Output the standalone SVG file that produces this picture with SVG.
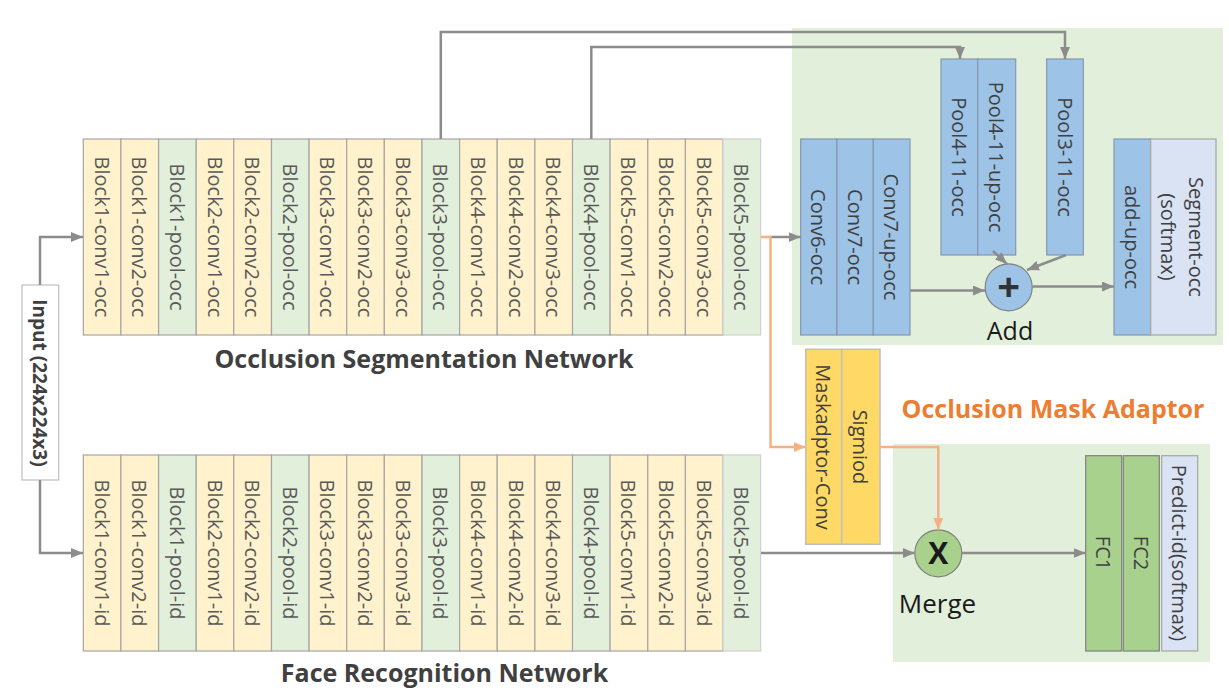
<svg xmlns="http://www.w3.org/2000/svg" width="1229" height="695" viewBox="0 0 1229 695">
<defs>
<marker id="ag" viewBox="0 0 12 10" refX="12" refY="5" markerWidth="12" markerHeight="10" markerUnits="userSpaceOnUse" orient="auto"><path d="M0,0 L12,5 L0,10 z" fill="#8c8c8c"/></marker>
<marker id="ao" viewBox="0 0 12 10" refX="12" refY="5" markerWidth="12" markerHeight="10" markerUnits="userSpaceOnUse" orient="auto"><path d="M0,0 L12,5 L0,10 z" fill="#f4b183"/></marker>
<style>
.conv{fill:#fff2cc;stroke:#a6a6a6;stroke-width:1.2}
.pool{fill:#e2efda;stroke:#a6a6a6;stroke-width:1.2}
.last{fill:#e2efda;stroke:#d0d0d0;stroke-width:1.2}
.blue{fill:#9dc3e6;stroke:#8497b0;stroke-width:1.2}
.pale{fill:#dae3f3;stroke:#a6a6a6;stroke-width:1.2}
.yel{fill:#ffd966;stroke:#bfbfbf;stroke-width:1.5}
.fc{fill:#a9d18e;stroke:#7f7f7f;stroke-width:1.2}
.region{fill:#e2efda}
.bt{font-family:"Open Sans","Liberation Sans",sans-serif;font-size:20px;fill:#595959;text-anchor:middle;dominant-baseline:central}
.dt{font-family:"Open Sans","Liberation Sans",sans-serif;font-size:20px;fill:#404040;text-anchor:middle;dominant-baseline:central}
.title{font-family:"Open Sans","Liberation Sans",sans-serif;font-size:25px;font-weight:bold;fill:#404040;text-anchor:middle}
.lab{font-family:"Open Sans","Liberation Sans",sans-serif;font-size:25px;fill:#1a1a1a;text-anchor:middle}
.cg{fill:none;stroke:#8c8c8c;stroke-width:2.5}
.co{fill:none;stroke:#f4b183;stroke-width:2.5}
</style>
</defs>
<rect class="region" x="792" y="28" width="431" height="317"/>
<rect class="region" x="893" y="444" width="317" height="218"/>
<g id="occ-blocks">
<g id="b1c1o"><rect class="conv" x="83.3" y="139" width="37.63" height="196"/><text class="bt" transform="translate(102.1,237) rotate(90)">Block1-conv1-occ</text></g>
<g id="b1c2o"><rect class="conv" x="120.9" y="139" width="37.63" height="196"/><text class="bt" transform="translate(139.7,237) rotate(90)">Block1-conv2-occ</text></g>
<g id="b1po"><rect class="pool" x="158.6" y="139" width="37.63" height="196"/><text class="bt" transform="translate(177.4,237) rotate(90)">Block1-pool-occ</text></g>
<g id="b2c1o"><rect class="conv" x="196.2" y="139" width="37.63" height="196"/><text class="bt" transform="translate(215.0,237) rotate(90)">Block2-conv1-occ</text></g>
<g id="b2c2o"><rect class="conv" x="233.8" y="139" width="37.63" height="196"/><text class="bt" transform="translate(252.6,237) rotate(90)">Block2-conv2-occ</text></g>
<g id="b2po"><rect class="pool" x="271.5" y="139" width="37.63" height="196"/><text class="bt" transform="translate(290.3,237) rotate(90)">Block2-pool-occ</text></g>
<g id="b3c1o"><rect class="conv" x="309.1" y="139" width="37.63" height="196"/><text class="bt" transform="translate(327.9,237) rotate(90)">Block3-conv1-occ</text></g>
<g id="b3c2o"><rect class="conv" x="346.7" y="139" width="37.63" height="196"/><text class="bt" transform="translate(365.5,237) rotate(90)">Block3-conv2-occ</text></g>
<g id="b3c3o"><rect class="conv" x="384.3" y="139" width="37.63" height="196"/><text class="bt" transform="translate(403.1,237) rotate(90)">Block3-conv3-occ</text></g>
<g id="b3po"><rect class="pool" x="422.0" y="139" width="37.63" height="196"/><text class="bt" transform="translate(440.8,237) rotate(90)">Block3-pool-occ</text></g>
<g id="b4c1o"><rect class="conv" x="459.6" y="139" width="37.63" height="196"/><text class="bt" transform="translate(478.4,237) rotate(90)">Block4-conv1-occ</text></g>
<g id="b4c2o"><rect class="conv" x="497.2" y="139" width="37.63" height="196"/><text class="bt" transform="translate(516.0,237) rotate(90)">Block4-conv2-occ</text></g>
<g id="b4c3o"><rect class="conv" x="534.9" y="139" width="37.63" height="196"/><text class="bt" transform="translate(553.7,237) rotate(90)">Block4-conv3-occ</text></g>
<g id="b4po"><rect class="pool" x="572.5" y="139" width="37.63" height="196"/><text class="bt" transform="translate(591.3,237) rotate(90)">Block4-pool-occ</text></g>
<g id="b5c1o"><rect class="conv" x="610.1" y="139" width="37.63" height="196"/><text class="bt" transform="translate(628.9,237) rotate(90)">Block5-conv1-occ</text></g>
<g id="b5c2o"><rect class="conv" x="647.8" y="139" width="37.63" height="196"/><text class="bt" transform="translate(666.6,237) rotate(90)">Block5-conv2-occ</text></g>
<g id="b5c3o"><rect class="conv" x="685.4" y="139" width="37.63" height="196"/><text class="bt" transform="translate(704.2,237) rotate(90)">Block5-conv3-occ</text></g>
<g id="b5po"><rect class="last" x="723.0" y="139" width="37.63" height="196"/><text class="bt" transform="translate(741.8,237) rotate(90)">Block5-pool-occ</text></g>
</g>
<g id="id-blocks">
<g id="b1c1i"><rect class="conv" x="83.3" y="455" width="37.63" height="196"/><text class="bt" transform="translate(102.1,553) rotate(90)">Block1-conv1-id</text></g>
<g id="b1c2i"><rect class="conv" x="120.9" y="455" width="37.63" height="196"/><text class="bt" transform="translate(139.7,553) rotate(90)">Block1-conv2-id</text></g>
<g id="b1pi"><rect class="pool" x="158.6" y="455" width="37.63" height="196"/><text class="bt" transform="translate(177.4,553) rotate(90)">Block1-pool-id</text></g>
<g id="b2c1i"><rect class="conv" x="196.2" y="455" width="37.63" height="196"/><text class="bt" transform="translate(215.0,553) rotate(90)">Block2-conv1-id</text></g>
<g id="b2c2i"><rect class="conv" x="233.8" y="455" width="37.63" height="196"/><text class="bt" transform="translate(252.6,553) rotate(90)">Block2-conv2-id</text></g>
<g id="b2pi"><rect class="pool" x="271.5" y="455" width="37.63" height="196"/><text class="bt" transform="translate(290.3,553) rotate(90)">Block2-pool-id</text></g>
<g id="b3c1i"><rect class="conv" x="309.1" y="455" width="37.63" height="196"/><text class="bt" transform="translate(327.9,553) rotate(90)">Block3-conv1-id</text></g>
<g id="b3c2i"><rect class="conv" x="346.7" y="455" width="37.63" height="196"/><text class="bt" transform="translate(365.5,553) rotate(90)">Block3-conv2-id</text></g>
<g id="b3c3i"><rect class="conv" x="384.3" y="455" width="37.63" height="196"/><text class="bt" transform="translate(403.1,553) rotate(90)">Block3-conv3-id</text></g>
<g id="b3pi"><rect class="pool" x="422.0" y="455" width="37.63" height="196"/><text class="bt" transform="translate(440.8,553) rotate(90)">Block3-pool-id</text></g>
<g id="b4c1i"><rect class="conv" x="459.6" y="455" width="37.63" height="196"/><text class="bt" transform="translate(478.4,553) rotate(90)">Block4-conv1-id</text></g>
<g id="b4c2i"><rect class="conv" x="497.2" y="455" width="37.63" height="196"/><text class="bt" transform="translate(516.0,553) rotate(90)">Block4-conv2-id</text></g>
<g id="b4c3i"><rect class="conv" x="534.9" y="455" width="37.63" height="196"/><text class="bt" transform="translate(553.7,553) rotate(90)">Block4-conv3-id</text></g>
<g id="b4pi"><rect class="pool" x="572.5" y="455" width="37.63" height="196"/><text class="bt" transform="translate(591.3,553) rotate(90)">Block4-pool-id</text></g>
<g id="b5c1i"><rect class="conv" x="610.1" y="455" width="37.63" height="196"/><text class="bt" transform="translate(628.9,553) rotate(90)">Block5-conv1-id</text></g>
<g id="b5c2i"><rect class="conv" x="647.8" y="455" width="37.63" height="196"/><text class="bt" transform="translate(666.6,553) rotate(90)">Block5-conv2-id</text></g>
<g id="b5c3i"><rect class="conv" x="685.4" y="455" width="37.63" height="196"/><text class="bt" transform="translate(704.2,553) rotate(90)">Block5-conv3-id</text></g>
<g id="b5pi"><rect class="last" x="723.0" y="455" width="37.63" height="196"/><text class="bt" transform="translate(741.8,553) rotate(90)">Block5-pool-id</text></g>
</g>
<g id="input"><rect x="22" y="285" width="36.7" height="195" fill="#ffffff" stroke="#bfbfbf" stroke-width="1.2"/><text class="dt" style="font-weight:bold;font-size:19px" transform="translate(40.3,383) rotate(90)">Input (224x224x3)</text></g>
<g id="conv6"><rect class="blue" x="800.7" y="139" width="36.3" height="196"/><text class="dt" transform="translate(818.9,237) rotate(90)">Conv6-occ</text></g>
<g id="conv7"><rect class="blue" x="837" y="139" width="36.3" height="196"/><text class="dt" transform="translate(855.2,237) rotate(90)">Conv7-occ</text></g>
<g id="conv7up"><rect class="blue" x="873.3" y="139" width="36.7" height="196"/><text class="dt" transform="translate(891.6,237) rotate(90)">Conv7-up-occ</text></g>
<g id="pool4"><rect class="blue" x="941" y="59" width="36.7" height="196"/><text class="dt" transform="translate(959.4,157) rotate(90)">Pool4-11-occ</text></g>
<g id="pool4up"><rect class="blue" x="977.7" y="59" width="38" height="196"/><text class="dt" transform="translate(996.7,157) rotate(90)">Pool4-11-up-occ</text></g>
<g id="pool3"><rect class="blue" x="1046.7" y="59" width="36.6" height="196"/><text class="dt" transform="translate(1065,157) rotate(90)">Pool3-11-occ</text></g>
<g id="addup"><rect class="blue" x="1114" y="139" width="36.7" height="196"/><text class="dt" transform="translate(1132.4,237) rotate(90)">add-up-occ</text></g>
<g id="segment"><rect class="pale" x="1150.7" y="139" width="65.3" height="196"/><text class="dt" transform="translate(1183.4,237) rotate(90)"><tspan x="0" y="-14">Segment-occ</tspan><tspan x="0" y="14">(softmax)</tspan></text></g>
<g id="add"><circle cx="1008.7" cy="287.3" r="23.5" fill="#9dc3e6" stroke="#7f7f7f" stroke-width="1.2"/><text x="1008.7" y="301" style="font-family:'Open Sans','Liberation Sans',sans-serif;font-size:40px;font-weight:bold;fill:#333333;text-anchor:middle">+</text><text class="lab" x="1010" y="340">Add</text></g>
<g id="maskconv"><rect class="yel" x="805.7" y="349.3" width="36" height="195"/><text class="dt" transform="translate(823.7,447) rotate(90)">Maskadptor-Conv</text></g>
<g id="sigmoid"><rect class="yel" x="841.7" y="349.3" width="38.3" height="195"/><text class="dt" transform="translate(860.8,447) rotate(90)">Sigmiod</text></g>
<g id="merge"><circle cx="938.3" cy="553.3" r="23.5" fill="#a9d18e" stroke="#7f7f7f" stroke-width="1.2"/><text x="938.3" y="564" style="font-family:'Open Sans','Liberation Sans',sans-serif;font-size:30px;font-weight:bold;fill:#1a1a1a;text-anchor:middle">X</text><text class="lab" style="font-size:26px" x="937.5" y="613">Merge</text></g>
<g id="fc1"><rect class="fc" x="1085.7" y="455.7" width="36" height="195.3"/><text class="dt" transform="translate(1103.7,553) rotate(90)">FC1</text></g>
<g id="fc2"><rect class="fc" x="1123.3" y="455.7" width="36" height="195.3"/><text class="dt" transform="translate(1141.3,553) rotate(90)">FC2</text></g>
<g id="predict"><rect class="pale" x="1161.7" y="455.7" width="36" height="195.3"/><text class="dt" transform="translate(1179.7,553) rotate(90)">Predict-id(softmax)</text></g>
<g id="labels">
<text class="title" x="424" y="368">Occlusion Segmentation Network</text>
<text class="title" x="444.5" y="682">Face Recognition Network</text>
<text class="title" style="fill:#ed7d31" x="1053" y="418">Occlusion Mask Adaptor</text>
</g>
<g id="connectors">
<path class="cg" d="M40,285 V237 H83" marker-end="url(#ag)"/>
<path class="cg" d="M40,480 V553 H83" marker-end="url(#ag)"/>
<path class="cg" d="M440.8,139 V32 H1065 V59" marker-end="url(#ag)"/>
<path class="cg" d="M591.3,139 V47 H960 V59" marker-end="url(#ag)"/>
<path class="cg" d="M770.5,237 H800.7" marker-end="url(#ag)"/>
<path class="co" d="M761,237 H770.5 V447 H805.7" marker-end="url(#ao)"/>
<path class="cg" d="M910,290.5 H985" marker-end="url(#ag)"/>
<path class="cg" d="M1032.2,286.5 H1114" marker-end="url(#ag)"/>
<path class="cg" d="M993,251 L1007,264" marker-end="url(#ag)"/>
<path class="cg" d="M1066,255 L1027,270" marker-end="url(#ag)"/>
<path class="cg" d="M761,553 H914.8" marker-end="url(#ag)"/>
<path class="cg" d="M961.8,553 H1085.7" marker-end="url(#ag)"/>
<path class="co" d="M880,447 H938.3 V529.8" marker-end="url(#ao)"/>
</g>
</svg>
